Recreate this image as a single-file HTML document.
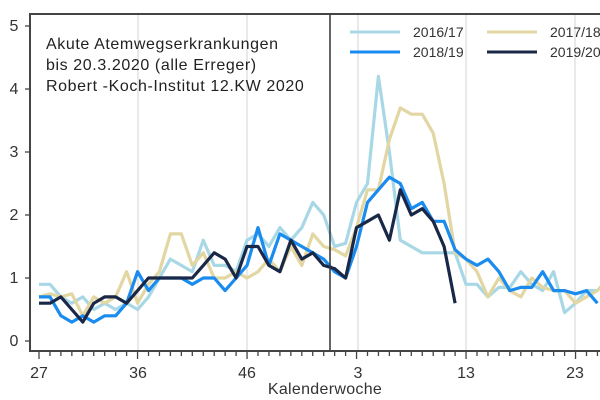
<!DOCTYPE html>
<html><head><meta charset="utf-8"><style>
html,body{margin:0;padding:0;background:#fff;width:600px;height:400px;overflow:hidden}
svg{display:block;font-family:"Liberation Sans",Arial,sans-serif}
</style></head><body>
<svg id="s" width="600" height="400" xmlns="http://www.w3.org/2000/svg">
<rect width="600" height="400" fill="#fff"/>
<g stroke="#e2e2e2" stroke-width="1.5">
<line x1="138" y1="14" x2="138" y2="351"/><line x1="247" y1="14" x2="247" y2="351"/>
<line x1="358" y1="14" x2="358" y2="351"/><line x1="466" y1="14" x2="466" y2="351"/>
<line x1="575" y1="14" x2="575" y2="351"/>
</g>
<g id="series" fill="none" stroke-linejoin="round" stroke-width="3.2"></g>
<line x1="330" y1="14" x2="330" y2="351" stroke="#333" stroke-width="1.5"/>
<path d="M600 14 H30 V351 H600" fill="none" stroke="#444" stroke-width="2"/>
<g id="ticks" stroke="#444" stroke-width="1.3"></g>
<g font-size="16" fill="#333" text-anchor="middle">
<text x="14" y="31">5</text><text x="14" y="94">4</text><text x="14" y="157">3</text>
<text x="14" y="220">2</text><text x="14" y="283">1</text><text x="14" y="346">0</text>
<text x="39" y="378">27</text><text x="138" y="378">36</text><text x="247" y="378">46</text>
<text x="358" y="378">3</text><text x="466" y="378">13</text><text x="575" y="378">23</text>
<text x="325" y="394" letter-spacing="0.3">Kalenderwoche</text>
</g>
<g font-size="16" fill="#222" letter-spacing="0.6">
<text x="46" y="49">Akute Atemwegserkrankungen</text>
<text x="46" y="70">bis 20.3.2020 (alle Erreger)</text>
<text x="46" y="91">Robert -Koch-Institut 12.KW 2020</text>
</g>
<g stroke-width="3">
<line x1="350" y1="32" x2="400" y2="32" stroke="#a8d8e6"/>
<line x1="350" y1="52" x2="400" y2="52" stroke="#1a8cf0"/>
<line x1="487" y1="32" x2="537" y2="32" stroke="#e2d6a2"/>
<line x1="487" y1="52" x2="537" y2="52" stroke="#1a2848"/>
</g>
<g font-size="14" fill="#333">
<text x="413" y="37">2016/17</text><text x="413" y="57">2018/19</text>
<text x="550" y="37">2017/18</text><text x="550" y="57">2019/20</text>
</g>
</svg>
<script>
var X=function(i){return 39+10.95*i},Y=function(v){return 341-63*v};
var d={
"#a8d8e6":[0.9,0.9,0.7,0.6,0.7,0.5,0.6,0.5,0.6,0.5,0.7,1.0,1.3,1.2,1.1,1.6,1.2,1.2,1.1,1.6,1.7,1.5,1.8,1.6,1.8,2.2,2.0,1.5,1.55,2.2,2.5,4.2,3.0,1.6,1.5,1.4,1.4,1.4,1.4,0.9,0.9,0.7,0.85,0.85,1.1,0.9,0.8,1.1,0.45,0.6,0.8,0.8],
"#e2d6a2":[0.7,0.75,0.7,0.75,0.4,0.7,0.6,0.7,1.1,0.6,0.9,1.1,1.7,1.7,1.2,1.4,1.0,1.0,1.1,1.0,1.1,1.3,1.1,1.5,1.2,1.7,1.5,1.45,1.35,1.8,2.4,2.4,3.2,3.7,3.6,3.6,3.3,2.5,1.4,1.3,1.1,0.7,1.0,0.8,0.7,1.0,0.85,0.8,0.8,0.6,0.7,0.8,1.0],
"#1a8cf0":[0.7,0.7,0.4,0.3,0.4,0.3,0.4,0.4,0.6,1.1,0.8,1.0,1.0,1.0,0.9,1.0,1.0,0.8,1.0,1.2,1.8,1.2,1.7,1.6,1.5,1.4,1.3,1.1,1.0,1.5,2.2,2.4,2.6,2.5,2.1,2.2,1.9,1.9,1.45,1.3,1.2,1.3,1.1,0.8,0.85,0.85,1.1,0.8,0.8,0.75,0.8,0.6],
"#1a2848":[0.6,0.6,0.7,0.5,0.3,0.6,0.7,0.7,0.6,0.8,1.0,1.0,1.0,1.0,1.0,1.2,1.4,1.3,1.0,1.5,1.5,1.2,1.1,1.6,1.3,1.4,1.2,1.15,1.0,1.8,1.9,2.0,1.6,2.4,2.0,2.1,1.9,1.5,0.6]};
var g=document.getElementById("series"),ns="http://www.w3.org/2000/svg";
for(var c in d){var p=document.createElementNS(ns,"polyline");p.setAttribute("stroke",c);
p.setAttribute("points",d[c].map(function(v,i){return X(i).toFixed(1)+","+Y(v).toFixed(1)}).join(" "));g.appendChild(p);}
var t=document.getElementById("ticks");
for(var i=0;i<=52;i++){var l=document.createElementNS(ns,"line"),x=X(i);l.setAttribute("x1",x);l.setAttribute("x2",x);l.setAttribute("y1",351);l.setAttribute("y2",[0,9,19,29,39,49].indexOf(i)>=0?359:356);t.appendChild(l);}
for(var v=0;v<=5;v++){var l=document.createElementNS(ns,"line");l.setAttribute("x1",25);l.setAttribute("x2",30);l.setAttribute("y1",Y(v));l.setAttribute("y2",Y(v));t.appendChild(l);}
</script>
</body></html>
